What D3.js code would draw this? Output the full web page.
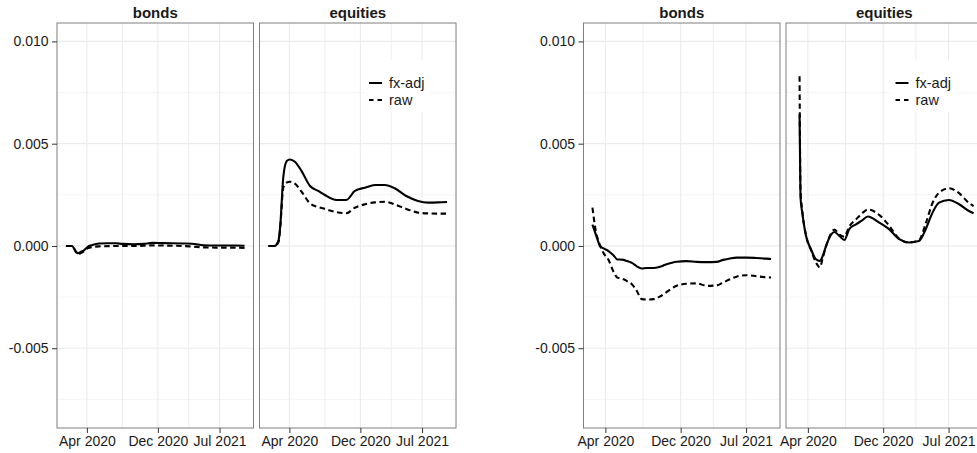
<!DOCTYPE html>
<html>
<head>
<meta charset="utf-8">
<script src="https://cdn.jsdelivr.net/npm/d3@7"></script>
<style>
    body { margin: 0; background: #fff; }
    svg { display: block; font-family: "Liberation Sans", Arial, sans-serif; }
</style>
</head>
<body>
<svg id="chart" width="977" height="453"></svg>
<script>
const facets = ['bonds', 'equities'];
const seriesNames = ['fx-adj', 'raw'];
const yLimits = [-0.008, 0.01];
const yTicks = [-0.005, 0, 0.005, 0.010];
const yMinorTicks = [-0.0075, -0.0025, 0.0025, 0.0075];
const xTickDates = ['2020-04-01', '2020-12-01', '2021-07-01'];
const xTickLabels = ['Apr 2020', 'Dec 2020', 'Jul 2021'];

// left chart
const leftDates = ['2020-01-20', '2020-02-10', '2020-02-24', '2020-03-01', '2020-03-11', '2020-03-23',
    '2020-04-03', '2020-04-20', '2020-05-13', '2020-06-11', '2020-07-09', '2020-08-01', '2020-09-10',
    '2020-10-14', '2020-11-12', '2020-12-17', '2021-01-20', '2021-02-23', '2021-03-29', '2021-05-08',
    '2021-06-17', '2021-07-22', '2021-08-25', '2021-09-25'];
const leftBondsFx = [0, 0, -0.0003, -0.00035, -0.00029, -0.0002, -0.00005, 0.00005, 0.00012, 0.00013,
    0.00013, 0.0001, 0.00008, 0.0001, 0.00015, 0.00014, 0.00013, 0.00012, 0.00011, 0.00003, 0.00002,
    0.00002, 0.00002, 0.00001];
const leftBondsRaw = [0, 0, -0.0003, -0.00042, -0.00035, -0.00025, -0.00012, -0.00005, -0.00002, -0.00001,
    0, 0, 0, 0.00001, 0.00003, 0.00002, 0.00001, 0, -0.00003, -0.00007, -0.00008, -0.00008, -0.00008, -0.0001];
const leftEquitiesFx = [0, 0, 0.0003, 0.00106, 0.00335, 0.00415, 0.00423, 0.00412, 0.00366, 0.00293,
    0.00269, 0.00249, 0.00225, 0.00225, 0.00269, 0.00285, 0.00298, 0.00298, 0.00282, 0.00244, 0.0022,
    0.00212, 0.00213, 0.00215];
const leftEquitiesRaw = [0, 0, 0.0002, 0.00098, 0.00285, 0.0031, 0.00314, 0.00305, 0.00265, 0.00208,
    0.0019, 0.00181, 0.00165, 0.0016, 0.00187, 0.00204, 0.00213, 0.00216, 0.00203, 0.00181, 0.00163,
    0.00159, 0.00158, 0.00158];

// right chart
const rightDates = ['2020-02-19', '2020-03-05', '2020-03-08', '2020-03-14', '2020-03-26', '2020-04-11',
    '2020-04-27', '2020-05-10', '2020-05-19', '2020-05-30', '2020-06-10', '2020-06-26', '2020-07-12',
    '2020-07-28', '2020-08-13', '2020-09-04', '2020-09-24', '2020-10-12', '2020-11-18', '2020-12-20',
    '2021-01-22', '2021-02-23', '2021-03-27', '2021-04-18', '2021-05-10', '2021-05-31', '2021-07-02',
    '2021-08-04', '2021-09-05', '2021-09-20'];
const rightBondsFx = [0.00104, 0.00038, 0.00025, 0, -0.00012, -0.00025, -0.00045, -0.00066, -0.00066,
    -0.00068, -0.00074, -0.00083, -0.001, -0.0011, -0.00108, -0.00108, -0.00102, -0.00092, -0.00077,
    -0.00074, -0.00078, -0.00079, -0.00078, -0.00068, -0.00061, -0.00057, -0.00057, -0.00059, -0.00062, -0.00064];
const rightBondsRaw = [0.00187, 0.00045, 0.00032, 0.00005, -0.00035, -0.00068, -0.00125, -0.00155, -0.00158,
    -0.00163, -0.00172, -0.00187, -0.0022, -0.0026, -0.00262, -0.0026, -0.00248, -0.0023, -0.00195,
    -0.00185, -0.00183, -0.00195, -0.00193, -0.00178, -0.00163, -0.0015, -0.00143, -0.00148, -0.00153, -0.00154];
const rightEquitiesFx = [null, 0.00643, 0.0024, 0.0016, 0.00049, -0.00016, -0.00065, -0.00073, -0.00049,
    0, 0.00041, 0.00068, 0.00049, 0.00029, 0.00082, 0.00106, 0.00125, 0.00144, 0.00114, 0.00082, 0.00033,
    0.00017, 0.00024, 0.00082, 0.00163, 0.00212, 0.00225, 0.00204, 0.00171, 0.0016];
const rightEquitiesRaw = [null, 0.0083, 0.0028, 0.0017, 0.00052, -0.0002, -0.0008, -0.00105, -0.0006,
    0, 0.00045, 0.0008, 0.00055, 0.00045, 0.00095, 0.0013, 0.0016, 0.00178, 0.00152, 0.001, 0.00035,
    0.00017, 0.00028, 0.0011, 0.0021, 0.0026, 0.00282, 0.00258, 0.0021, 0.00195];

const parse = d3.timeParse('%Y-%m-%d');

const figures = [
    {
        left: 57,
        dates: leftDates.map(parse),
        series: { bonds: [leftBondsFx, leftBondsRaw], equities: [leftEquitiesFx, leftEquitiesRaw] }
    },
    {
        left: 583.5,
        dates: rightDates.map(parse),
        series: { bonds: [rightBondsFx, rightBondsRaw], equities: [rightEquitiesFx, rightEquitiesRaw] }
    }
];

const panelTop = 23, panelBottom = 428;
const panelW = 196.5, panelGap = 6;
const dashes = [null, '5.5,3.5'];

const svg = d3.select('#chart');

function expand([a, b]) {
    const pad = (b - a) * 0.05;
    return [a - pad, b + pad];
}

const y = d3.scaleLinear()
    .domain(expand(yLimits))
    .range([panelBottom, panelTop]);

const tickDates = xTickDates.map(parse);
// minor breaks halfway between the majors, like ggplot
const minorDates = d3.pairs(tickDates).map(([a, b]) => new Date((+a + +b) / 2));

figures.forEach(fig => {
    const [t0, t1] = d3.extent(fig.dates);
    const xDomain = expand([+t0, +t1]).map(t => new Date(t));

    facets.forEach((facet, i) => {
        const px = fig.left + i * (panelW + panelGap);
        const x = d3.scaleTime().domain(xDomain).range([px, px + panelW]);
        const g = svg.append('g');

        // grid
        g.selectAll('.ymin').data(yMinorTicks).join('line')
            .attr('x1', px).attr('x2', px + panelW)
            .attr('y1', d => y(d)).attr('y2', d => y(d))
            .attr('stroke', '#f2f2f2').attr('stroke-width', 0.8);
        g.selectAll('.xmin').data(minorDates).join('line')
            .attr('x1', d => x(d)).attr('x2', d => x(d))
            .attr('y1', panelTop).attr('y2', panelBottom)
            .attr('stroke', '#ebebeb').attr('stroke-width', 0.9);
        g.selectAll('.ymaj').data(yTicks).join('line')
            .attr('x1', px).attr('x2', px + panelW)
            .attr('y1', d => y(d)).attr('y2', d => y(d))
            .attr('stroke', '#ebebeb').attr('stroke-width', 1.2);
        g.selectAll('.xmaj').data(tickDates).join('line')
            .attr('x1', d => x(d)).attr('x2', d => x(d))
            .attr('y1', panelTop).attr('y2', panelBottom)
            .attr('stroke', '#ebebeb').attr('stroke-width', 1.1);

        // lines
        const line = d3.line()
            .defined(d => d[1] != null)
            .x(d => x(d[0]))
            .y(d => y(d[1]))
            .curve(d3.curveMonotoneX);

        fig.series[facet].forEach((vals, s) => {
            const pts = fig.dates.map((d, k) => [d, vals[k]]);
            g.append('path')
                .attr('d', line(pts))
                .attr('fill', 'none')
                .attr('stroke', '#000')
                .attr('stroke-width', 2.1)
                .attr('stroke-dasharray', dashes[s]);
        });

        // border
        g.append('rect')
            .attr('x', px).attr('y', panelTop)
            .attr('width', panelW).attr('height', panelBottom - panelTop)
            .attr('fill', 'none').attr('stroke', '#7f7f7f').attr('stroke-width', 1);

        // strip
        g.append('text')
            .attr('x', px + panelW / 2).attr('y', 17.5)
            .attr('text-anchor', 'middle')
            .attr('font-size', 15).attr('font-weight', 'bold')
            .attr('fill', '#1a1a1a')
            .text(facet);

        // x axis
        const xAxis = g.append('g')
            .attr('transform', `translate(0,${panelBottom})`)
            .call(d3.axisBottom(x).tickValues(tickDates)
                .tickFormat((d, k) => xTickLabels[k])
                .tickSize(5).tickPadding(3));
        xAxis.select('.domain').remove();
        xAxis.selectAll('line').attr('stroke', '#333');
        xAxis.selectAll('text').attr('font-size', 14).attr('fill', '#1a1a1a')
            .attr('font-family', '"Liberation Sans", Arial, sans-serif');

        // y axis on first facet only
        if (i === 0) {
            const yAxis = g.append('g')
                .attr('transform', `translate(${px},0)`)
                .call(d3.axisLeft(y).tickValues(yTicks)
                    .tickFormat(d => d.toFixed(3))
                    .tickSize(5).tickPadding(3.5));
            yAxis.select('.domain').remove();
            yAxis.selectAll('line').attr('stroke', '#333');
            yAxis.selectAll('text').attr('font-size', 14).attr('fill', '#1a1a1a')
                .attr('font-family', '"Liberation Sans", Arial, sans-serif');
        }

        // legend inside equities panel
        if (facet === 'equities') {
            const lg = g.append('g').attr('transform', `translate(${px + 105},60)`);
            lg.append('rect')
                .attr('width', 66).attr('height', 52)
                .attr('fill', '#fff');
            seriesNames.forEach((name, s) => {
                const ly = 23 + s * 17;
                lg.append('line')
                    .attr('x1', 4.5).attr('x2', 17.5)
                    .attr('y1', ly).attr('y2', ly)
                    .attr('stroke', '#000').attr('stroke-width', 2)
                    .attr('stroke-dasharray', s ? '4.5,4' : null);
                lg.append('text')
                    .attr('x', 24.5).attr('y', ly)
                    .attr('dy', '0.35em')
                    .attr('font-size', 14.5)
                    .attr('fill', '#1a1a1a')
                    .text(name);
            });
        }
    });
});
</script>
</body>
</html>
